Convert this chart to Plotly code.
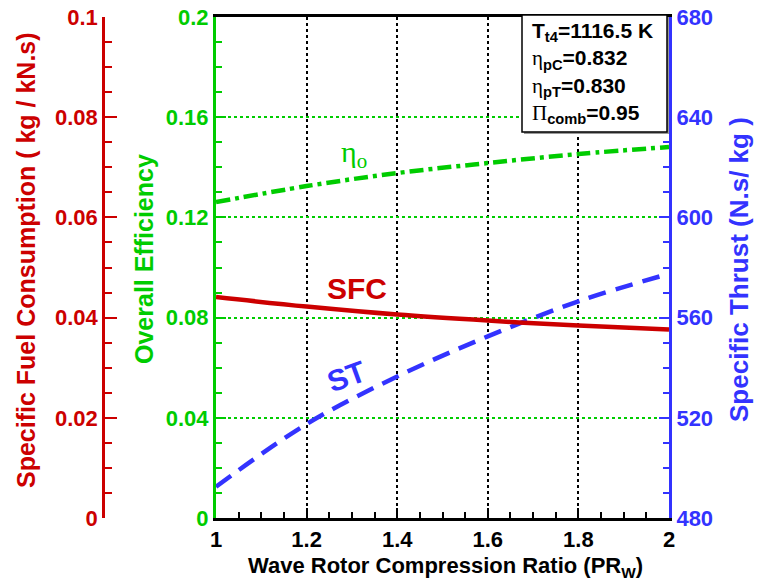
import plotly.graph_objects as go

W, H = 757, 584

# ---- data ----
pr_w = [1.0, 1.2, 1.4, 1.6, 1.8, 2.0]
sfc = [0.0441, 0.0422, 0.0406, 0.0394, 0.0384, 0.0376]          # kg/(kN.s)
eta_o = [0.1261, 0.1325, 0.1377, 0.1417, 0.1453, 0.1481]        # overall efficiency
st = [492.5, 517.5, 536.5, 552.5, 566.5, 577.5]                 # N.s/kg

legend_lines = [
    "<b>T<sub>t4</sub>=1116.5 K</b>",
    "<span style='font-family:Liberation Serif'>η</span><b><sub>pC</sub>=0.832</b>",
    "<span style='font-family:Liberation Serif'>η</span><b><sub>pT</sub>=0.830</b>",
    "<span style='font-family:Liberation Serif'>Π</span><b><sub>comb</sub>=0.95</b>",
]

RED = "#cc0000"
GREEN = "#00cc00"
BLUE = "#3333ff"
FONT = "Liberation Sans"


def px(x):
    return x / W


def py(y):
    return 1 - y / H


x0p, x1p = 216, 669
y0p, y1p = 17, 518

fig = go.Figure()
fig.add_trace(go.Scatter(x=pr_w, y=sfc, yaxis="y3", mode="lines",
                         line=dict(color=RED, width=4.5, shape="spline"), showlegend=False))
fig.add_trace(go.Scatter(x=pr_w, y=eta_o, yaxis="y", mode="lines",
                         line=dict(color=GREEN, width=4.5, shape="spline", dash="14px,5px,4px,5px"),
                         showlegend=False))
fig.add_trace(go.Scatter(x=pr_w, y=st, yaxis="y2", mode="lines",
                         line=dict(color=BLUE, width=4.5, shape="spline", dash="18px,10px"),
                         showlegend=False))

tickfont = dict(family=FONT, size=22, weight="bold")

fig.update_layout(
    width=W, height=H,
    margin=dict(l=0, r=0, t=0, b=0),
    paper_bgcolor="white", plot_bgcolor="white",
    xaxis=dict(domain=[px(x0p), px(x1p)], range=[1, 2], tick0=1, dtick=0.2,
               ticks="inside", ticklen=10, tickwidth=2, tickcolor="black",
               minor=dict(dtick=0.05, ticks="inside", ticklen=6, tickwidth=1.5, tickcolor="black", showgrid=False),
               showline=True, linecolor="black", linewidth=3, mirror=True,
               showgrid=True, gridcolor="black", griddash="dot", gridwidth=1.5,
               zeroline=False, tickfont=dict(tickfont, color="black"), automargin=False),
    yaxis=dict(domain=[py(y1p), py(y0p)], range=[0, 0.2], dtick=0.04,
               ticks="inside", ticklen=10, tickwidth=2, tickcolor=GREEN,
               minor=dict(dtick=0.01, ticks="inside", ticklen=6, tickwidth=1.5, tickcolor=GREEN, showgrid=False),
               showline=True, linecolor=GREEN, linewidth=3,
               showgrid=True, gridcolor=GREEN, griddash="dot", gridwidth=1.5,
               zeroline=False, tickfont=dict(tickfont, color=GREEN), automargin=False,
               ticklabeloverflow="allow"),
    yaxis2=dict(overlaying="y", side="right", anchor="x", range=[480, 680], dtick=40,
                ticks="inside", ticklen=10, tickwidth=2, tickcolor=BLUE,
                minor=dict(dtick=10, ticks="inside", ticklen=6, tickwidth=1.5, tickcolor=BLUE, showgrid=False),
                showline=True, linecolor=BLUE, linewidth=3, showgrid=False, zeroline=False,
                tickfont=dict(tickfont, color=BLUE), automargin=False, ticklabeloverflow="allow"),
    yaxis3=dict(overlaying="y", side="left", anchor="free", position=px(103),
                range=[0, 0.1], dtick=0.02,
                ticks="inside", ticklen=12, tickwidth=2, tickcolor=RED,
                minor=dict(dtick=0.005, ticks="inside", ticklen=7, tickwidth=1.5, tickcolor=RED, showgrid=False),
                showline=True, linecolor=RED, linewidth=2.5, showgrid=False, zeroline=False,
                tickfont=dict(tickfont, color=RED), automargin=False, ticklabeloverflow="allow"),
)

# legend box
fig.add_shape(type="rect", xref="paper", yref="paper",
              x0=px(524), x1=px(669), y0=py(134), y1=py(17),
              fillcolor="#999999", line=dict(width=0), layer="above")
fig.add_shape(type="rect", xref="paper", yref="paper",
              x0=px(522), x1=px(667), y0=py(132), y1=py(15),
              fillcolor="white", line=dict(color="black", width=1.5), layer="above")
fig.add_annotation(xref="paper", yref="paper", x=px(530), y=py(17), xanchor="left", yanchor="top",
                   text="<br>".join(legend_lines), align="left", showarrow=False,
                   font=dict(family=FONT, size=21, color="black"))


def label(x, y, text, font, angle=0):
    fig.add_annotation(xref="paper", yref="paper", x=px(x), y=py(y), xanchor="center", yanchor="middle",
                       textangle=angle, showarrow=False, text=text, font=font)


# axis titles
label(26, 260, "Specific Fuel Consumption ( kg / kN.s)",
      dict(family=FONT, size=25, weight="bold", color=RED), -90)
label(144, 259, "Overall Efficiency",
      dict(family=FONT, size=25, weight="bold", color=GREEN), -90)
label(739, 270, "Specific Thrust (N.s/ kg )",
      dict(family=FONT, size=26, weight="bold", color=BLUE), -90)
label(446, 567, "Wave Rotor Compression Ratio (PR<sub>W</sub>)",
      dict(family=FONT, size=22, weight="bold", color="black"))

# curve labels
label(354, 154, "η<sub>o</sub>", dict(family="Liberation Serif", size=30, color=GREEN))
label(357, 289, "SFC", dict(family=FONT, size=30, weight="bold", color=RED))
label(346, 376, "ST", dict(family=FONT, size=30, weight="bold", color=BLUE), -20)

fig.write_html("out.html", post_script="document.body.style.margin='0px';",
               config={"displayModeBar": False})
